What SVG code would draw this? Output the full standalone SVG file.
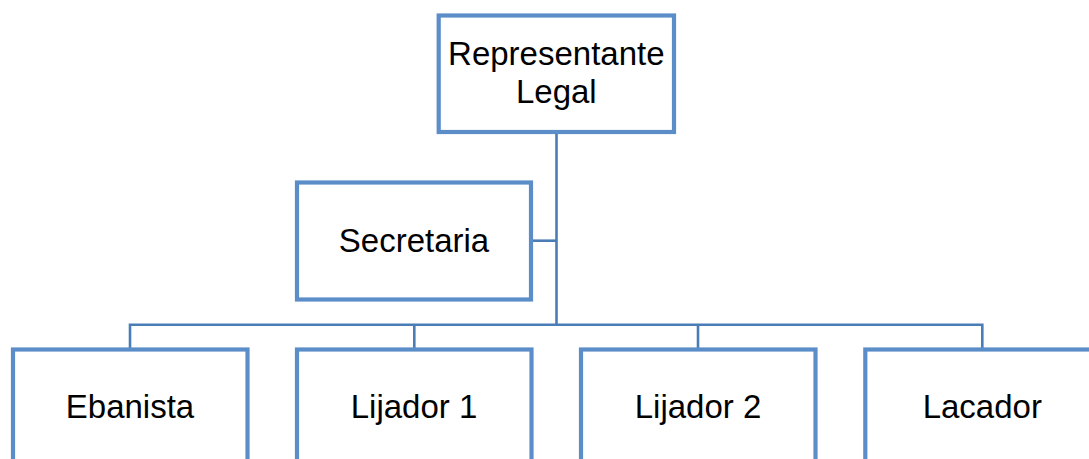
<svg xmlns="http://www.w3.org/2000/svg" width="1089" height="459" viewBox="0 0 1089 459">
<style>
.box{fill:#ffffff;stroke:#5b8ec8;stroke-width:4.2}
.lbl{font-family:"Liberation Sans",Arial,sans-serif;font-size:33px;fill:#000000;text-anchor:middle}
.con{fill:none;stroke:#4a7db5;stroke-width:2.6}
</style>
<rect width="1089" height="459" fill="#ffffff"/>
<g id="connectors">
<line class="con" x1="556.5" y1="132" x2="556.5" y2="325"/>
<line class="con" x1="531" y1="240.7" x2="556.5" y2="240.7"/>
<polyline class="con" points="130,349.5 130,324.8 982.3,324.8 982.3,349.5"/>
<line class="con" x1="414.3" y1="324.8" x2="414.3" y2="349.5"/>
<line class="con" x1="698" y1="324.8" x2="698" y2="349.5"/>
</g>
<g id="representante">
<rect class="box" x="438.7" y="15.5" width="235.3" height="116.5"/>
<text class="lbl" x="556.3" y="65">Representante</text>
<text class="lbl" x="556.3" y="103">Legal</text>
</g>
<g id="secretaria">
<rect class="box" x="297" y="182.5" width="234" height="117"/>
<text class="lbl" x="414" y="251.7">Secretaria</text>
</g>
<g id="ebanista">
<rect class="box" x="13" y="349.5" width="234.5" height="117"/>
<text class="lbl" x="130" y="418.3">Ebanista</text>
</g>
<g id="lijador1">
<rect class="box" x="297" y="349.5" width="234.5" height="117"/>
<text class="lbl" x="414" y="418.3">Lijador 1</text>
</g>
<g id="lijador2">
<rect class="box" x="581" y="349.5" width="234.5" height="117"/>
<text class="lbl" x="698" y="418.3">Lijador 2</text>
</g>
<g id="lacador">
<rect class="box" x="865.3" y="349.5" width="234.5" height="117"/>
<text class="lbl" x="982.3" y="418.3">Lacador</text>
</g>
</svg>
